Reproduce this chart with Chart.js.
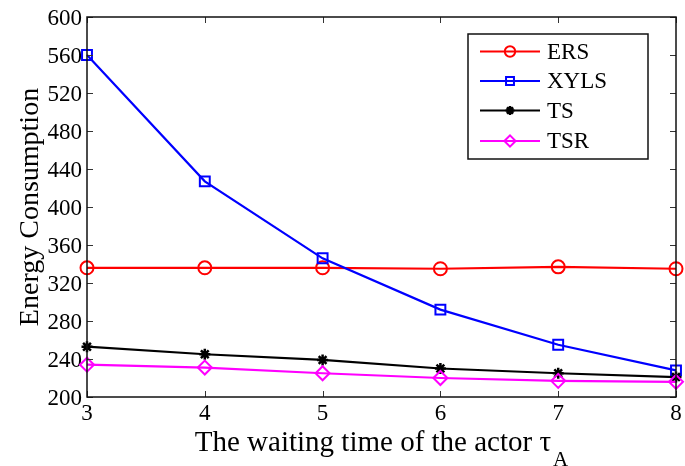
<!DOCTYPE html>
<html>
<head>
<meta charset="utf-8">
<script src="https://cdn.jsdelivr.net/npm/chart.js@4/dist/chart.umd.min.js"></script>
<style>
  html, body { margin: 0; padding: 0; background: #fff; }
  #wrap { width: 685px; height: 466px; }
</style>
</head>
<body>
<div id="wrap"><canvas id="c" width="685" height="466"></canvas></div>
<script>
// Waiting time of the actor (x axis)
const waitingTimes = [3, 4, 5, 6, 7, 8];
// Energy consumption per scheme
const ersValues  = [336, 336, 336, 335, 337, 335];
const xylsValues = [560, 427, 346, 292, 255, 228];
const tsValues   = [253, 245, 239, 230, 225, 221];
const tsrValues  = [234, 231, 225, 220, 217, 216];
// Axis ticks
const xTicks = [3, 4, 5, 6, 7, 8];
const yTicks = [200, 240, 280, 320, 360, 400, 440, 480, 520, 560, 600];

const SERIF = '"Liberation Serif", "Times New Roman", serif';

function toPoints(vals) {
  return waitingTimes.map((x, i) => ({ x: x, y: vals[i] }));
}

const seriesDefs = [
  { label: 'ERS',  data: ersValues,  color: '#ff0000', style: 'circle',  radius: 6.5, width: 2,   order: 4 },
  { label: 'XYLS', data: xylsValues, color: '#0000ff', style: 'rect',    radius: 7,   width: 2,   order: 3 },
  { label: 'TS',   data: tsValues,   color: '#000000', style: 'star',    radius: 5.5, width: 2.5, order: 2 },
  { label: 'TSR',  data: tsrValues,  color: '#ff00ff', style: 'rectRot', radius: 7,   width: 2,   order: 1 }
];

const datasets = seriesDefs.map(s => ({
  label: s.label,
  data: toPoints(s.data),
  borderColor: s.color,
  backgroundColor: 'rgba(0,0,0,0)',
  borderWidth: 2.2,
  pointStyle: s.style,
  pointRadius: s.radius,
  pointBorderWidth: s.width,
  pointBorderColor: s.color,
  pointBackgroundColor: 'rgba(0,0,0,0)',
  tension: 0,
  clip: false,
  order: s.order
}));

// Box around the plot with inward tick marks on all four sides
const framePlugin = {
  id: 'frame',
  afterDatasetsDraw(chart) {
    const { ctx, chartArea: a, scales } = chart;
    ctx.save();
    ctx.strokeStyle = '#333';
    ctx.lineWidth = 1;
    const tl = 6;
    xTicks.forEach(v => {
      const px = Math.round(scales.x.getPixelForValue(v)) + 0.5;
      ctx.beginPath();
      ctx.moveTo(px, a.bottom); ctx.lineTo(px, a.bottom - tl);
      ctx.moveTo(px, a.top); ctx.lineTo(px, a.top + tl);
      ctx.stroke();
    });
    yTicks.forEach(v => {
      const py = Math.round(scales.y.getPixelForValue(v)) + 0.5;
      ctx.beginPath();
      ctx.moveTo(a.left, py); ctx.lineTo(a.left + tl, py);
      ctx.moveTo(a.right, py); ctx.lineTo(a.right - tl, py);
      ctx.stroke();
    });
    ctx.strokeStyle = '#111';
    ctx.lineWidth = 1.5;
    ctx.strokeRect(a.left, a.top, a.right - a.left, a.bottom - a.top);
    ctx.restore();
  }
};

// X axis title with subscript, and the legend box
const annotatePlugin = {
  id: 'annotate',
  afterDraw(chart) {
    const { ctx, chartArea: a } = chart;
    ctx.save();
    // x-axis title
    const main = 'The waiting time of the actor \u03c4';
    const sub = 'A';
    const mainFont = '29px ' + SERIF;
    const subFont = '21px ' + SERIF;
    ctx.font = mainFont;
    const wMain = ctx.measureText(main).width;
    ctx.font = subFont;
    const wSub = ctx.measureText(sub).width;
    const cx = (a.left + a.right) / 2;
    const x0 = cx - (wMain + wSub + 2) / 2;
    const base = 451;
    ctx.fillStyle = '#000';
    ctx.textBaseline = 'alphabetic';
    ctx.textAlign = 'left';
    ctx.font = mainFont;
    ctx.fillText(main, x0, base);
    ctx.font = subFont;
    ctx.fillText(sub, x0 + wMain + 2, base + 15);

    // legend
    const lx = 468, ly = 34, lw = 180, lh = 125;
    ctx.fillStyle = '#fff';
    ctx.fillRect(lx, ly, lw, lh);
    ctx.strokeStyle = '#111';
    ctx.lineWidth = 1.5;
    ctx.strokeRect(lx, ly, lw, lh);
    const rows = [51.5, 81, 110.5, 141];
    ctx.font = '23px ' + SERIF;
    ctx.textBaseline = 'middle';
    seriesDefs.forEach((s, i) => {
      const y = rows[i];
      ctx.strokeStyle = s.color;
      ctx.lineWidth = 2.2;
      ctx.beginPath();
      ctx.moveTo(480, y); ctx.lineTo(540, y);
      ctx.stroke();
      ctx.fillStyle = 'rgba(0,0,0,0)';
      ctx.lineWidth = s.width;
      Chart.helpers.drawPoint(ctx, {
        pointStyle: s.style,
        radius: s.radius * 0.8,
        borderWidth: s.width,
        rotation: 0
      }, 510, y);
      ctx.fillStyle = '#000';
      ctx.fillText(s.label, 547, y + 1);
    });
    ctx.restore();
  }
};

new Chart(document.getElementById('c'), {
  type: 'line',
  data: { datasets: datasets },
  options: {
    responsive: false,
    animation: false,
    devicePixelRatio: 1,
    layout: { padding: { left: 0, right: 4, top: 17, bottom: 0 } },
    plugins: {
      legend: { display: false },
      tooltip: { enabled: false }
    },
    scales: {
      x: {
        type: 'linear',
        min: 3, max: 8,
        border: { display: false },
        grid: { display: false, drawTicks: false },
        afterBuildTicks(scale) { scale.ticks = xTicks.map(v => ({ value: v })); },
        ticks: {
          color: '#000',
          font: { family: SERIF, size: 23 },
          padding: 3,
          maxRotation: 0,
          autoSkip: false
        },
        afterFit(scale) {
          scale.height = 69;
          scale.paddingLeft = 0;
          scale.paddingRight = 0;
        }
      },
      y: {
        type: 'linear',
        min: 200, max: 600,
        border: { display: false },
        grid: { display: false, drawTicks: false },
        afterBuildTicks(scale) { scale.ticks = yTicks.map(v => ({ value: v })); },
        ticks: {
          color: '#000',
          font: { family: SERIF, size: 23 },
          padding: 5,
          labelOffset: 2,
          autoSkip: false
        },
        title: {
          display: true,
          text: 'Energy Consumption',
          color: '#000',
          font: { family: SERIF, size: 28 },
          padding: { top: 14, bottom: 0 }
        },
        afterFit(scale) {
          scale.width = 87;
          scale.paddingTop = 0;
          scale.paddingBottom = 0;
        }
      }
    }
  },
  plugins: [framePlugin, annotatePlugin]
});
</script>
</body>
</html>
